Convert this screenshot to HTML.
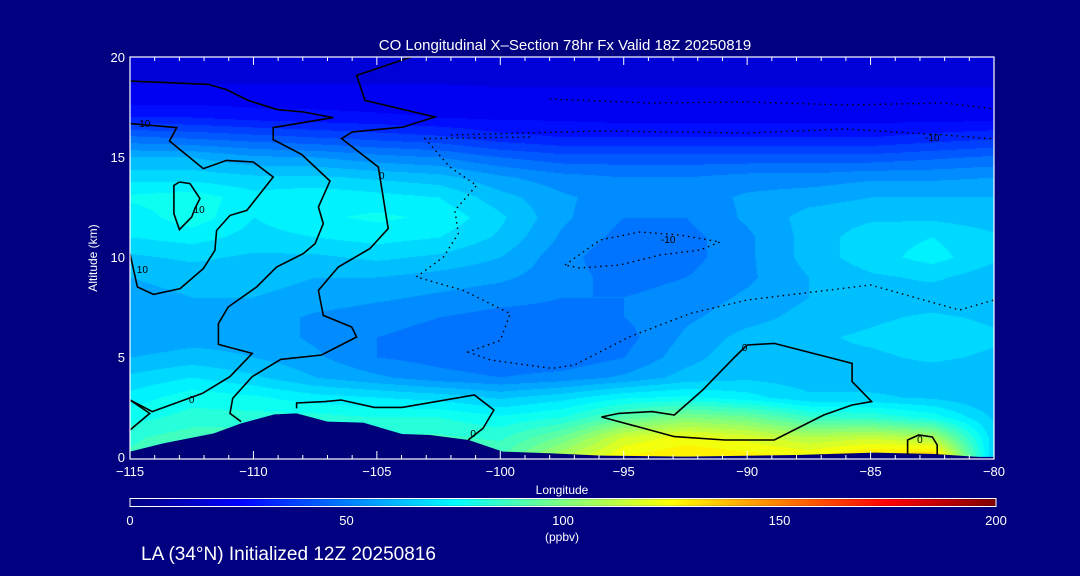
<!DOCTYPE html>
<html><head><meta charset="utf-8"><style>
html,body{margin:0;padding:0;background:#000080;}
#wrap{position:relative;width:1080px;height:576px;background:#000080;overflow:hidden;font-family:"Liberation Sans",sans-serif;}
canvas,svg{position:absolute;left:0;top:0;}
</style></head><body>
<div id="wrap">
<canvas id="cv" width="1080" height="576"></canvas>
<svg id="sv" width="1080" height="576"></svg>
</div>
<script>
const lons=[-115,-112.5,-110,-107.5,-105,-102.5,-100,-97.5,-95,-92.5,-90,-87.5,-85,-82.5,-80];
const alts=[20,19,18,17,16,15,14,13,12,11,10,9,8,7,6,5,4,3,2,1,0];
const co20=[16,16,16,16,16,16,16,16,16,16,16,16,16,16,16];
const co19=[19,19,19,19,19,19,19,19,19,19,19,19,19,19,19];
const co18=[22,22,22,22,22,22,21,21,21,21,21,21,21,21,21];
const co17=[30,30,28,27,26,25,24,24,23,23,23,23,23,23,23];
const co16=[46,44,42,40,38,36,32,30,30,30,30,30,30,32,34];
const co15=[60,60,56,55,52,50,45,42,42,42,42,42,42,44,46];
const co14=[68,68,66,66,64,62,56,52,50,50,52,52,54,54,55];
const co13=[76,78,72,74,72,70,62,56,52,52,56,58,60,60,60];
const co12=[72,78,70,74,76,74,66,56,50,50,56,62,64,64,62];
const co11=[70,72,68,70,72,70,64,54,48,48,54,62,68,70,66];
const co10=[64,66,64,64,66,64,60,52,46,48,54,62,68,72,66];
const co9=[60,62,62,60,60,58,56,52,48,50,54,60,64,66,62];
const co8=[58,60,60,58,56,54,52,50,50,52,56,60,62,62,60];
const co7=[56,58,58,54,52,50,48,48,50,54,58,62,64,66,64];
const co6=[56,58,58,54,50,48,46,46,48,56,62,64,66,68,66];
const co5=[60,62,60,56,50,48,46,46,50,58,64,64,64,66,64];
const co4=[66,70,66,60,56,52,50,52,56,62,64,62,62,62,60];
const co3=[72,78,76,72,70,68,64,68,74,76,72,66,66,64,60];
const co2=[78,82,82,82,80,80,76,80,92,100,96,86,84,78,64];
const co1=[84,88,88,88,86,86,84,96,116,122,118,110,114,108,66];
const co0=[86,90,90,90,90,88,90,110,126,130,128,126,134,138,64];
const field=[co20,co19,co18,co17,co16,co15,co14,co13,co12,co11,co10,co9,co8,co7,co6,co5,co4,co3,co2,co1,co0];

const terrainLon=[-115,-113.65,-111.6,-110.5,-109.15,-108.25,-107,-105.55,-103.98,-102.85,-101.28,-99.9,-97.9,-95.9,-92.5,-88,-84.85,-82.4,-80.6,-80];
const terrainAlt=[0.27,0.68,1.18,1.68,2.13,2.18,1.77,1.72,1.15,1.1,0.85,0.27,0.18,0.07,0.02,0.1,0.22,0.15,0,0];

const contourA=[[-115,18.8],[-111.83,18.63],[-111.09,18.37],[-110.21,17.83],[-109.06,17.38],[-107.98,17.25],[-106.77,16.97],[-109.2,16.47],[-109.2,15.87],[-108.05,15.13],[-106.9,13.8],[-107.37,12.5],[-107.17,11.67],[-107.5,10.67],[-107.98,10.17],[-109.06,9.5],[-109.87,8.5],[-111.02,7.5],[-111.42,6.67],[-111.42,5.63],[-110.05,5.18],[-110.95,4.02],[-112.07,3.18],[-114.1,2.27],[-115,2.85]];
const contourB=[[-103.6,20],[-105.82,19.08],[-105.48,17.83],[-102.65,17.0],[-103.93,16.5],[-106.0,16.25],[-106.43,15.92],[-104.94,14.5],[-104.8,13.42],[-104.67,12.42],[-104.54,11.42],[-105.28,10.42],[-106.56,9.5],[-107.37,8.33],[-107.17,7.08],[-106.02,6.5],[-105.82,6.0],[-107.24,5.1],[-108.9,4.88],[-110.05,4.02],[-110.84,2.93],[-110.95,2.18],[-110.5,1.77]];
const contourC=[[-113.0,13.75],[-112.57,13.67],[-112.17,12.92],[-112.37,12.42],[-112.5,12.0],[-113.0,11.37],[-113.22,12.17],[-113.22,13.58],[-113.0,13.75]];
const contourD=[[-115,16.67],[-113.11,16.47],[-113.4,15.8],[-112.03,14.42],[-111.09,14.83],[-110.0,14.75],[-109.2,14.0],[-110.27,12.33],[-110.95,12.08],[-111.49,11.33],[-111.56,10.33],[-112.03,9.42],[-112.97,8.42],[-114.05,8.13],[-114.7,8.5],[-115,10.17]];
const contourE=[[-98.8,16.0],[-103.05,15.92],[-102.04,14.5],[-100.96,13.58],[-101.84,12.33],[-101.7,11.17],[-102.3,10.0],[-103.4,9.0],[-101.5,8.33],[-99.6,7.17],[-100.0,5.83],[-101.3,5.25],[-100.4,4.85],[-97.9,4.43],[-97.0,4.6],[-94.75,6.02],[-92.3,7.18],[-90.0,7.85],[-85.0,8.6],[-81.4,7.35],[-80,7.85]];
const contourE2=[[-98,17.9],[-94,17.7],[-90,17.75],[-86,17.6],[-82,17.7],[-80,17.4]];
const contourE3=[[-102,16.1],[-96,16.3],[-90,16.2],[-86,16.4],[-82,16.1],[-80,15.9]];
const contourE4=[[-97.38,9.6],[-95.96,10.85],[-94.34,11.25],[-92.72,11.1],[-91.1,10.75],[-91.91,10.35],[-93.53,10.1],[-95.15,9.6],[-96.77,9.45],[-97.38,9.6]];
const contourF=[[-90.0,5.6],[-88.9,5.68],[-85.75,4.68],[-85.75,3.77],[-84.96,2.77],[-85.75,2.6],[-86.9,2.1],[-88.9,0.85],[-90.9,0.85],[-92.95,1.02],[-95.2,1.77],[-95.9,2.0],[-95.2,2.18],[-93.85,2.27],[-92.95,2.1],[-91.8,3.35],[-91.15,4.18],[-90.5,5.0],[-90.0,5.6]];
const contourG=[[-83.5,0.1],[-83.5,0.85],[-83.05,1.1],[-82.5,1.0],[-82.3,0.6],[-82.3,0.1]];
const contourH=[[-115,2.85],[-114.2,2.18],[-115,1.35]];
const contourI=[[-108.25,2.43],[-108.25,2.7],[-107.1,2.77],[-106.45,2.85],[-105.1,2.48],[-103.98,2.48],[-101.05,3.1],[-100.26,2.35],[-100.7,1.43],[-101.3,0.85]];

const xTicks=[-115,-110,-105,-100,-95,-90,-85,-80];
const xTickLabels=["\u2212115","\u2212110","\u2212105","\u2212100","\u221295","\u221290","\u221285","\u221280"];
const yTicks=[0,5,10,15,20];
const cbTicks=[0,50,100,150,200];

const X0=130,X1=994,Y0=57,Y1=457;
const xS=lon=>X0+(lon+115)/35*(X1-X0);
const yS=a=>Y1-a/20*(Y1-Y0);
const cbX=v=>130+v/200*(996-130);

function jet(v){const t=Math.max(0,Math.min(1,v/200));const c=x=>Math.max(0,Math.min(1,1.5-Math.abs(x)));
return [c(4*t-3)*255,c(4*t-2)*255,c(4*t-1)*255];}

const cv=document.getElementById('cv');const ctx=cv.getContext('2d');
ctx.fillStyle='#000080';ctx.fillRect(0,0,1080,576);
const W=X1-X0,H=Y1-Y0;const img=ctx.createImageData(W,H);
for(let py=0;py<H;py++){const a=20-py/H*20;let r=(20-a);let i0=Math.min(19,Math.floor(r));let fy=r-i0;
 for(let px=0;px<W;px++){const lon=-115+px/W*35;let cx=(lon+115)/2.5;let j0=Math.min(13,Math.floor(cx));let fx=cx-j0;
  const v=field[i0][j0]*(1-fx)*(1-fy)+field[i0][j0+1]*fx*(1-fy)+field[i0+1][j0]*(1-fx)*fy+field[i0+1][j0+1]*fx*fy;
  const q=Math.floor(v/5)*5+2.5;const c=jet(q);const k=(py*W+px)*4;
  img.data[k]=c[0];img.data[k+1]=c[1];img.data[k+2]=c[2];img.data[k+3]=255;}}
ctx.putImageData(img,X0,Y0);
for(let x=130;x<996;x++){const c=jet((x-130)/(996-130)*200);ctx.fillStyle=`rgb(${c[0]|0},${c[1]|0},${c[2]|0})`;ctx.fillRect(x,499,1,7);}

const NS='http://www.w3.org/2000/svg';const sv=document.getElementById('sv');
function el(t,at,parent){const e=document.createElementNS(NS,t);for(const k in at)e.setAttribute(k,at[k]);(parent||sv).appendChild(e);return e;}
function pts(arr){return arr.map(p=>xS(p[0]).toFixed(1)+','+yS(p[1]).toFixed(1)).join(' ');}

const tp=terrainLon.map((l,i)=>xS(l).toFixed(1)+','+yS(terrainAlt[i]).toFixed(1)).join(' ')+' '+X1+','+(Y1+1)+' '+X0+','+(Y1+1);
const terr=el('polygon',{points:tp,fill:'#000078'});



const solids=[['contour-a',contourA],['contour-b',contourB],['contour-c',contourC],['contour-d',contourD],['contour-f',contourF],['contour-g',contourG],['contour-h',contourH],['contour-i',contourI]];
solids.forEach(s=>{const p=el('polyline',{points:pts(s[1]),fill:'none',stroke:'#000','stroke-width':1.6});

});
const dots=[['contour-e',contourE],['contour-e2',contourE2],['contour-e3',contourE3],['contour-e4',contourE4]];
dots.forEach(s=>{const p=el('polyline',{points:pts(s[1]),fill:'none',stroke:'#000','stroke-width':1.4,'stroke-dasharray':'1.5 4'});

});

const clabels=[[-114.4,16.7,'10'],[-112.2,12.4,'10'],[-114.5,9.4,'10'],[-104.8,14.1,'0'],[-112.5,2.9,'0'],[-101.1,1.2,'0'],[-90.1,5.5,'0'],[-83.0,0.9,'0'],[-93.2,10.9,'-10'],[-82.5,16.0,'-10']];
clabels.forEach(c=>{const t=el('text',{x:xS(c[0]),y:yS(c[1])+4,fill:'#000','font-size':10,'text-anchor':'middle'});t.textContent=c[2];

});

const fr=el('rect',{x:X0,y:Y0,width:X1-X0,height:Y1-Y0+2,fill:'none',stroke:'#fff','stroke-width':1.2});


for(let l=-115;l<=-80;l++){const big=l%5===0;const x=xS(l);el('line',{x1:x,x2:x,y1:Y1+2,y2:Y1+2-(big?8:4),stroke:'#fff','stroke-width':1});el('line',{x1:x,x2:x,y1:Y0,y2:Y0+(big?8:4),stroke:'#fff','stroke-width':1});}
xTicks.forEach((l,i)=>{const t=el('text',{x:xS(l),y:476,fill:'#fff','font-size':13,'text-anchor':'middle'});t.textContent=xTickLabels[i];

});
yTicks.forEach(a=>{const t=el('text',{x:125,y:yS(a)+5,fill:'#fff','font-size':13,'text-anchor':'end'});t.textContent=a;

});
const xt=el('text',{x:562,y:494,fill:'#fff','font-size':12,'text-anchor':'middle'});xt.textContent='Longitude';


const yt=el('text',{x:97,y:258,fill:'#fff','font-size':12,'text-anchor':'middle',transform:'rotate(-90 97 258)'});yt.textContent='Altitude (km)';


const ti=el('text',{x:565,y:50,fill:'#fff','font-size':15,'text-anchor':'middle'});ti.textContent='CO Longitudinal X\u2013Section 78hr  Fx Valid 18Z 20250819';


const cbf=el('rect',{x:130,y:498.5,width:866,height:8,fill:'none',stroke:'#fff','stroke-width':1});


cbTicks.forEach(v=>{const t=el('text',{x:cbX(v),y:525,fill:'#fff','font-size':13,'text-anchor':'middle'});t.textContent=v;

});
const un=el('text',{x:562,y:541,fill:'#fff','font-size':12,'text-anchor':'middle'});un.textContent='(ppbv)';


const ft=el('text',{x:141,y:560,fill:'#fff','font-size':19});ft.textContent='LA (34\u00b0N) Initialized 12Z 20250816';


</script>
</body></html>
